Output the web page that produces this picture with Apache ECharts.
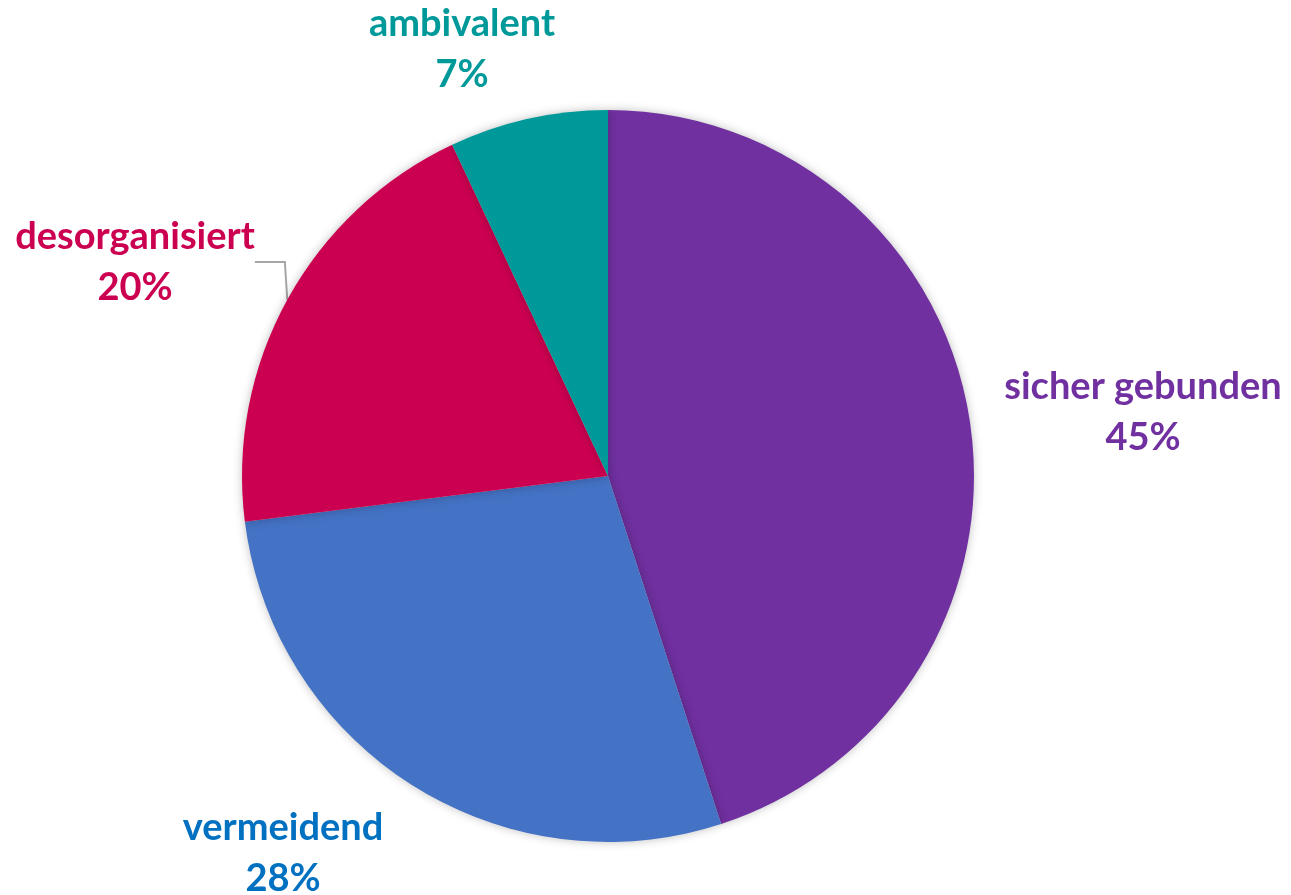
<!DOCTYPE html>
<html><head><meta charset="utf-8">
<script src="https://cdn.jsdelivr.net/npm/echarts@6/dist/echarts.min.js"></script>
<style>html,body{margin:0;padding:0;background:#fff}#c{width:1291px;height:895px}</style>
</head><body><div id="c"></div>
<script>
const categories = ['sicher gebunden', 'vermeidend', 'desorganisiert', 'ambivalent'];
const values = [45, 28, 20, 7];
const sliceColors = ['#7030A0', '#4472C4', '#CC0050', '#009999'];
const labelColors = ['#7030A0', '#0070C0', '#CC0050', '#009999'];
const labelCenters = [[1143, 412], [283, 853], [135, 262], [462, 49]];
const showLines = [false, false, true, false];

const chart = echarts.init(document.getElementById('c'), null, {renderer: 'canvas'});
chart.setOption({
  animation: false,
  series: [{
    type: 'pie',
    center: [608, 476],
    radius: 366,
    startAngle: 90,
    clockwise: true,
    itemStyle: {shadowBlur: 10, shadowColor: 'rgba(0,0,0,0.25)'},
    emphasis: {disabled: true},
    label: {
      show: true,
      formatter: p => p.name + '\n' + p.value + '%',
      fontFamily: 'Lato',
      fontWeight: 'bold',
      fontSize: 38,
      lineHeight: 51,
      align: 'center',
      overflow: 'none'
    },
    labelLine: {show: true, lineStyle: {color: '#A6A6A6', width: 2}},
    labelLayout: p => ({
      x: labelCenters[p.dataIndex][0],
      y: labelCenters[p.dataIndex][1],
      align: 'center',
      verticalAlign: 'middle'
    }),
    data: categories.map((n, i) => ({
      name: n, value: values[i],
      itemStyle: {color: sliceColors[i]},
      label: {color: labelColors[i]},
      labelLine: {show: showLines[i]}
    }))
  }]
});
</script></body></html>
